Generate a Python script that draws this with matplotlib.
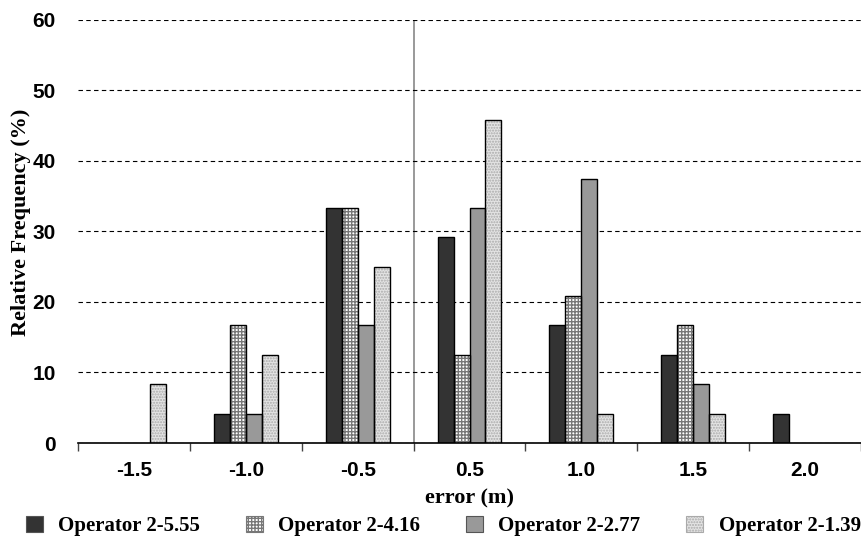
import numpy as np
import matplotlib.pyplot as plt

categories = ['-1.5', '-1.0', '-0.5', '0.5', '1.0', '1.5', '2.0']
op_555 = [0, 4.17, 33.33, 29.17, 16.67, 12.5, 4.17]
op_416 = [0, 16.67, 33.33, 12.5, 20.83, 16.67, 0]
op_277 = [0, 4.17, 16.67, 33.33, 37.5, 8.33, 0]
op_139 = [8.33, 12.5, 25, 45.83, 4.17, 4.17, 0]
series_names = ['Operator 2-5.55', 'Operator 2-4.16', 'Operator 2-2.77', 'Operator 2-1.39']

serif = ['Liberation Serif', 'DejaVu Serif']
sans = ['Liberation Sans', 'DejaVu Sans']

fig = plt.figure(figsize=(8.61, 5.36), dpi=100)
ax = fig.add_axes([0.0906, 0.1735, 0.9094, 0.7895])

x = np.arange(len(categories))
w = 0.143
styles = [
    dict(color='#333333', hatch=None, hcol=None),
    dict(color='white', hatch='+++++', hcol='#777777'),
    dict(color='#999999', hatch=None, hcol=None),
    dict(color='#e4e4e4', hatch='......', hcol='#aaaaaa'),
]
handles = []
for i, (vals, st) in enumerate(zip([op_555, op_416, op_277, op_139], styles)):
    pos = x + (i - 1.5) * w
    vals = np.array(vals)
    mask = vals > 0
    ax.bar(pos[mask], vals[mask], w, color=st['color'],
           hatch=st['hatch'], edgecolor=st['hcol'] or st['color'], linewidth=0, zorder=3)
    ax.bar(pos[mask], vals[mask], w, fill=False, edgecolor='black',
           linewidth=1.0, zorder=4)
    handles.append(plt.Rectangle((0, 0), 1, 1, facecolor=st['color'], hatch=st['hatch'],
                                 edgecolor=st['hcol'] or '#555555', linewidth=0.8))

ax.set_xlim(-0.5, len(categories) - 0.5)
ax.set_ylim(0, 60)
ax.set_yticks(range(0, 61, 10))
ax.yaxis.grid(True, linestyle=(0, (4, 3)), color='black', linewidth=0.8, zorder=0)
ax.axvline(2.5, color='#888888', linewidth=1.2, zorder=1)

for s in ['top', 'right', 'left']:
    ax.spines[s].set_visible(False)
ax.spines['bottom'].set_linewidth(1.2)
ax.spines['bottom'].set_zorder(5)

ax.set_xticks(x)
ax.set_xticklabels(categories, fontsize=15, fontweight='bold', family=sans)
ax.set_xticks(np.arange(-0.5, len(categories), 1.0), minor=True)
ax.tick_params(axis='x', which='major', length=0, pad=13)
ax.tick_params(axis='x', which='minor', length=6, width=1, color='#444444', direction='out')
ax.tick_params(axis='y', length=0, pad=16)
for lbl in ax.get_yticklabels():
    lbl.set_fontsize(15)
    lbl.set_fontweight('bold')
    lbl.set_family(sans)

ax.set_ylabel('Relative Frequency (%)', fontsize=16, fontweight='bold', family=serif)
ax.yaxis.set_label_coords(-0.06, 0.522)
ax.set_xlabel('error (m)', fontsize=16, fontweight='bold', family=serif, labelpad=6)

fig.legend(handles, series_names, loc='lower center', bbox_to_anchor=(0.515, -0.035), ncol=4,
           frameon=False, prop=dict(family=serif, weight='bold', size=15),
           handlelength=0.8, handleheight=0.8, columnspacing=2.2, handletextpad=0.75)

fig.savefig('out.png', dpi=100)
